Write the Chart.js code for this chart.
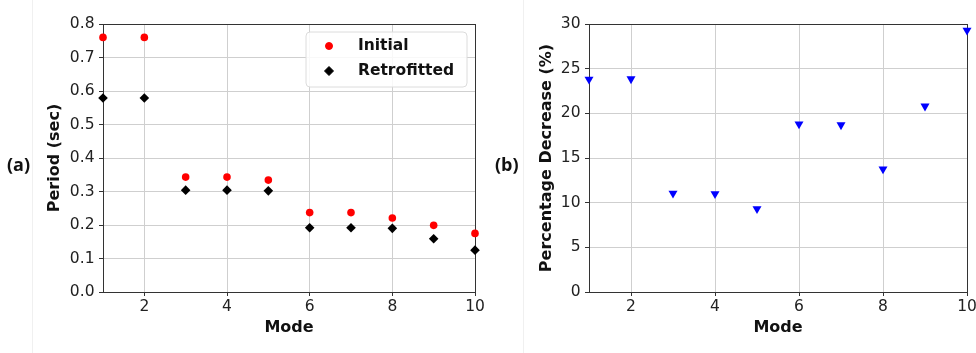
<!DOCTYPE html>
<html>
<head>
<meta charset="utf-8">
<script src="https://cdn.jsdelivr.net/npm/chart.js@4"></script>
<style>
  html, body { margin: 0; padding: 0; background: #fff; }
  #wrap { position: relative; width: 976px; height: 353px; overflow: hidden; }
  .pane { position: absolute; top: 0; width: 488px; height: 353px; }
  .lab { position: absolute; font-family: "Open Sans", "Liberation Sans", sans-serif; font-weight: bold; font-size: 18px; color: #111; line-height: 1; }
  .sep { position: absolute; top: 0; width: 1px; height: 353px; background: #f0f0f0; }
</style>
</head>
<body>
<div id="wrap">
  <div class="sep" style="left:32px"></div>
  <div class="sep" style="left:523px"></div>
  <div class="pane" style="left:0"><canvas id="ca" width="488" height="353"></canvas></div>
  <div class="pane" style="left:488px"><canvas id="cb" width="488" height="353"></canvas></div>
  <div class="lab" style="left:7px; top:155px;">(a)</div>
  <div class="lab" style="left:495px; top:155px;">(b)</div>
</div>
<script>
// ---- data ----
const modes = [1, 2, 3, 4, 5, 6, 7, 8, 9, 10];
const initialPeriod = [0.760, 0.760, 0.343, 0.343, 0.334, 0.237, 0.237, 0.221, 0.199, 0.175];
const retrofittedPeriod = [0.579, 0.579, 0.304, 0.304, 0.302, 0.192, 0.192, 0.190, 0.159, 0.125];
const percentDecrease = [23.8, 23.85, 11.05, 11.0, 9.3, 18.8, 18.7, 13.75, 20.8, 29.3];
const xTickValues = [2, 4, 6, 8, 10];
const yTicksA = [0, 0.1, 0.2, 0.3, 0.4, 0.5, 0.6, 0.7, 0.8];
const yTicksB = [0, 5, 10, 15, 20, 25, 30];

const FONT = '"DejaVu Sans", Verdana, sans-serif';
const tickFont = { family: FONT, size: 15.5 };
const titleFont = { family: FONT, size: 16, weight: 'bold' };

const framePlugin = {
  id: 'frame',
  beforeDatasetsDraw(chart) {
    const a = chart.chartArea, ctx = chart.ctx;
    ctx.save();
    ctx.strokeStyle = '#333';
    ctx.lineWidth = 1;
    ctx.strokeRect(Math.round(a.left) + 0.5, Math.round(a.top) + 0.5,
                   Math.round(a.right - a.left), Math.round(a.bottom - a.top));
    ctx.restore();
  }
};

const legendPlugin = {
  id: 'boxLegend',
  afterDraw(chart, args, opts) {
    if (!opts || !opts.items) return;
    const ctx = chart.ctx;
    ctx.save();
    const x = opts.x, y = opts.y, w = opts.w, h = opts.h, r = 4;
    ctx.beginPath();
    ctx.moveTo(x + r, y);
    ctx.arcTo(x + w, y, x + w, y + h, r);
    ctx.arcTo(x + w, y + h, x, y + h, r);
    ctx.arcTo(x, y + h, x, y, r);
    ctx.arcTo(x, y, x + w, y, r);
    ctx.closePath();
    ctx.fillStyle = 'rgba(255,255,255,0.85)';
    ctx.fill();
    ctx.strokeStyle = '#dcdcdc';
    ctx.lineWidth = 1;
    ctx.stroke();
    opts.items.forEach((it, i) => {
      const cy = y + opts.first + i * opts.gap;
      ctx.fillStyle = it.color;
      ctx.strokeStyle = it.color;
      Chart.helpers.drawPoint(ctx, { pointStyle: it.style, radius: it.radius, rotation: 0, borderWidth: 1 }, x + opts.mx, cy);
      ctx.fillStyle = '#111';
      ctx.font = 'bold 15.5px ' + FONT;
      ctx.textBaseline = 'middle';
      ctx.textAlign = 'left';
      ctx.fillText(it.text, x + opts.tx, cy);
    });
    ctx.restore();
  }
};

function xScale() {
  return {
    type: 'linear', min: 1, max: 10,
    afterBuildTicks(s) { s.ticks = xTickValues.map(v => ({ value: v })); },
    afterFit(s) { s.height = 61; s.paddingLeft = 0; s.paddingRight = 0; },
    ticks: { font: tickFont, color: '#222', padding: 2, maxRotation: 0, autoSkip: false },
    grid: { color: '#cfcfcf', tickColor: '#333', tickLength: 4, drawOnChartArea: true },
    border: { color: '#333', display: true },
    title: { display: true, text: 'Mode', font: titleFont, color: '#111', padding: { top: 0, bottom: 15.4 } }
  };
}

function yScale(vals, max, width, titleText, titlePad, fmt) {
  return {
    type: 'linear', min: 0, max: max,
    afterBuildTicks(s) { s.ticks = vals.map(v => ({ value: v })); },
    afterFit(s) { s.width = width; s.paddingTop = 0; s.paddingBottom = 0; },
    ticks: { font: tickFont, color: '#222', padding: 4.5, callback: fmt, autoSkip: false },
    grid: { color: '#cfcfcf', tickColor: '#333', tickLength: 4 },
    border: { color: '#333', display: true },
    title: { display: true, text: titleText, font: titleFont, color: '#111', padding: { top: titlePad, bottom: 0 } }
  };
}

const commonOpts = {
  responsive: false, animation: false, maintainAspectRatio: false,
  events: [],
  plugins: { legend: { display: false }, tooltip: { enabled: false } }
};

new Chart(document.getElementById('ca'), {
  type: 'scatter',
  data: {
    datasets: [
      { label: 'Initial', data: modes.map((m, i) => ({ x: m, y: initialPeriod[i] })),
        pointStyle: 'circle', pointRadius: 3.8, backgroundColor: '#ff0000', borderColor: '#ff0000', borderWidth: 0, clip: false },
      { label: 'Retrofitted', data: modes.map((m, i) => ({ x: m, y: retrofittedPeriod[i] })),
        pointStyle: 'rectRot', pointRadius: 4.8, backgroundColor: '#000', borderColor: '#000', borderWidth: 0, clip: false }
    ]
  },
  options: Object.assign({}, commonOpts, {
    layout: { padding: { left: 0, top: 24, right: 13, bottom: 0 } },
    scales: {
      x: xScale(),
      y: yScale(yTicksA, 0.8, 103, 'Period (sec)', 45, v => v.toFixed(1))
    },
    plugins: Object.assign({}, commonOpts.plugins, {
      boxLegend: {
        x: 306, y: 32, w: 161, h: 55, mx: 23, tx: 52, first: 14, gap: 25,
        items: [
          { text: 'Initial', color: '#ff0000', style: 'circle', radius: 3.5 },
          { text: 'Retrofitted', color: '#000', style: 'rectRot', radius: 4.5 }
        ]
      }
    })
  }),
  plugins: [framePlugin, legendPlugin]
});

new Chart(document.getElementById('cb'), {
  type: 'scatter',
  data: {
    datasets: [
      { label: 'Percentage Decrease', data: modes.map((m, i) => ({ x: m, y: percentDecrease[i] })),
        pointStyle: 'triangle', pointRotation: 180, pointRadius: 5.2, backgroundColor: '#0000ff', borderColor: '#0000ff', borderWidth: 0, clip: false }
    ]
  },
  options: Object.assign({}, commonOpts, {
    layout: { padding: { left: 0, top: 24, right: 9, bottom: 0 } },
    scales: {
      x: xScale(),
      y: yScale(yTicksB, 30, 101, 'Percentage Decrease (%)', 49.4, v => String(v))
    }
  }),
  plugins: [framePlugin]
});
</script>
</body>
</html>
